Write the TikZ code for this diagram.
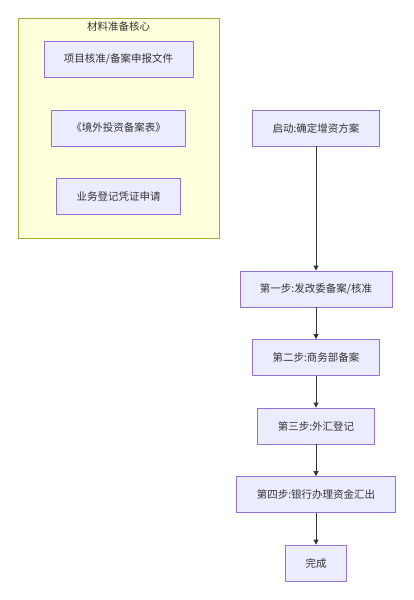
\documentclass[tikz,border=0pt]{standalone}
\usepackage{fontspec}
\setmainfont{Noto Sans CJK SC}
\usetikzlibrary{arrows.meta}
\definecolor{nodefill}{HTML}{ECECFF}
\definecolor{nodeline}{HTML}{9370DB}
\definecolor{clusterfill}{HTML}{FFFFDE}
\definecolor{clusterline}{HTML}{AAAA33}
\definecolor{textgray}{HTML}{333333}
\def\stepsep{68.5}

\begin{document}
\begin{tikzpicture}[x=1pt,y=-1pt,->,>={Triangle[length=5pt,width=5pt]},draw=textgray,line width=0.8pt,
    font=\fontsize{10.5}{12}\selectfont,text=textgray]
    \tikzstyle{box}=[rectangle,draw=nodeline,fill=nodefill,minimum height=36pt,inner xsep=20pt]
    \tikzstyle{cluster}=[rectangle,draw=clusterline,fill=clusterfill,minimum width=201pt,minimum height=220pt]
    \tikzstyle{annot}=[inner sep=0pt]

    \useasboundingbox (0,0) rectangle (414,600);

    % Draw the material cluster
    \node[cluster] (C) at (118.5,128) {};
    \node[annot] (C-title) at (118.5,26) {材料准备核心};

    % Draw the material nodes
    \foreach \name/\y/\txt in {1/59/{项目核准/备案申报文件},2/128/《境外投资备案表》,3/196.5/业务登记凭证申请}
        \node[box] (M-\name) at (118.5,\y) {\txt};

    % Draw the start node
    \node[box] (S-0) at (316,128) {启动:确定增资方案};

    % Draw the step nodes, then the end
    \foreach \name/\txt in {1/{第一步:发改委备案/核准},2/第二步:商务部备案,3/第三步:外汇登记,4/第四步:银行办理资金汇出,5/完成}
        \path node[box] (S-\name) at (316,{289+(\name-1)*\stepsep}) {\txt};

    % Connect every step with the next one
    \foreach \source/\dest in {0/1,1/2,2/3,3/4,4/5}
        \path (S-\source) edge (S-\dest);
\end{tikzpicture}
\end{document}
